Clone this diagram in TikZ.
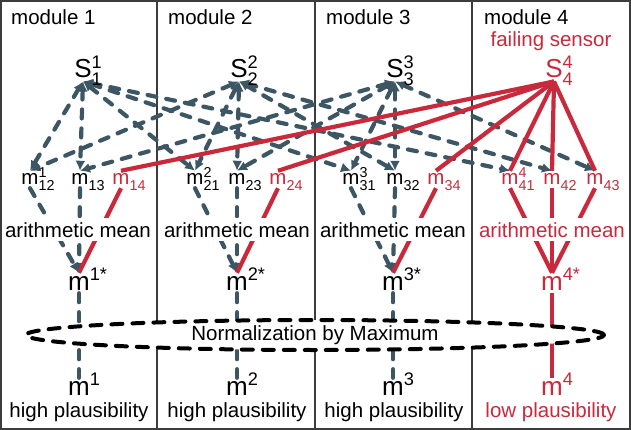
\documentclass[tikz,border=0pt]{standalone}
\usepackage{fontspec}
\setmainfont{Liberation Sans}
\usepackage{amsmath}
\usetikzlibrary{arrows.meta, shapes.geometric, backgrounds}

\definecolor{slate}{RGB}{61,86,100}
\definecolor{fail}{RGB}{200,42,60}
\definecolor{framegray}{RGB}{60,60,60}

% letter with stacked super- and subscript that do not widen the node
\newcommand{\quant}[3]{#1\rlap{\smash{${}^{\text{#2}}_{\text{#3}}$}}}

\begin{document}
\begin{tikzpicture}[
    x=1pt, y=-1pt,
    txt/.style={anchor=base, font=\fontsize{20.5}{24}\selectfont, inner sep=3pt},
    big/.style={anchor=base, font=\fontsize{26}{30}\selectfont, inner sep=3pt},
    mean/.style={txt, fill=white, inner sep=4pt},
    red/.style={text=fail},
    link/.style={slate, line width=4.2pt, dash pattern=on 9pt off 10pt, line cap=round},
    twoway/.style={arrows={Latex[length=10pt,width=10pt]-Latex[length=10pt,width=10pt]}},
    oneway/.style={arrows={-Latex[length=10pt,width=10pt]}},
    bad/.style={fail, line width=4.2pt},
    norm/.style={ellipse, draw=black, fill=white, line width=4pt, dash pattern=on 11pt off 10pt, line cap=round, minimum width=578pt, minimum height=30pt, inner sep=0pt, font=\fontsize{20.5}{24}\selectfont},
]
    \useasboundingbox (0,0) rectangle (631,430);

    % module titles
    \node[txt, anchor=base west] (t1) at (8,25) {module 1};
    \node[txt, anchor=base west] (t2) at (165,25) {module 2};
    \node[txt, anchor=base west] (t3) at (323,25) {module 3};
    \node[txt, anchor=base west] (t4) at (481,25) {module 4};
    \node[txt, red] (fs) at (551,47) {failing sensor};

    % sensors
    \node[big] (s1) at (83,78) {\quant{S}{1}{1}};
    \node[big] (s2) at (239,78) {\quant{S}{2}{2}};
    \node[big] (s3) at (395,78) {\quant{S}{3}{3}};
    \node[big, red] (s4) at (554,78) {\quant{S}{4}{4}};

    % pairwise measures
    \node[txt] (m12) at (30,185) {\quant{m}{1}{12}};
    \node[txt] (m13) at (80,185) {\quant{m}{}{13}};
    \node[txt, red] (m14) at (121,185) {\quant{m}{}{14}};
    \node[txt] (m21) at (195,185) {\quant{m}{2}{21}};
    \node[txt] (m23) at (237,185) {\quant{m}{}{23}};
    \node[txt, red] (m24) at (278,185) {\quant{m}{}{24}};
    \node[txt] (m31) at (351,185) {\quant{m}{3}{31}};
    \node[txt] (m32) at (395,185) {\quant{m}{}{32}};
    \node[txt, red] (m34) at (436,185) {\quant{m}{}{34}};
    \node[txt, red] (m41) at (510,185) {\quant{m}{4}{41}};
    \node[txt, red] (m42) at (552,185) {\quant{m}{}{42}};
    \node[txt, red] (m43) at (595,185) {\quant{m}{}{43}};

    % means
    \node[mean] (am1) at (78,237) {arithmetic mean};
    \node[mean] (am2) at (237,237) {arithmetic mean};
    \node[mean] (am3) at (393,237) {arithmetic mean};
    \node[mean, red] (am4) at (552,237) {arithmetic mean};

    \node[big] (ms1) at (79,290) {\quant{m}{1*}{}};
    \node[big] (ms2) at (237,290) {\quant{m}{2*}{}};
    \node[big] (ms3) at (393,290) {\quant{m}{3*}{}};
    \node[big, red] (ms4) at (552,290) {\quant{m}{4*}{}};

    % results
    \node[big] (mk1) at (79,395) {\quant{m}{1}{}};
    \node[big] (mk2) at (237,395) {\quant{m}{2}{}};
    \node[big] (mk3) at (393,395) {\quant{m}{3}{}};
    \node[big, red] (mk4) at (552,395) {\quant{m}{4}{}};

    \node[txt] (p1) at (79,417) {high plausibility};
    \node[txt] (p2) at (237,417) {high plausibility};
    \node[txt] (p3) at (394,417) {high plausibility};
    \node[txt, red] (p4) at (551,417) {low plausibility};

    \begin{scope}[on background layer]
        % module borders
        \draw[framegray, line width=1.2pt] (157,0) -- (157,430);
        \draw[framegray, line width=1.2pt] (315,0) -- (315,430);
        \draw[framegray, line width=1.2pt] (472,0) -- (472,430);

        % sensor to measure
        \draw[link, twoway] (s1.south) -- (m12.north);
        \draw[link, twoway] (s1.south) -- (m13.north);
        \draw[link, twoway] (s1.south) -- (m21.north);
        \draw[link, twoway] (s1.south) -- (m31.north);
        \draw[link, twoway] (s1.south) -- (m41.north);
        \draw[link, twoway] (s2.south) -- (m12.north);
        \draw[link, twoway] (s2.south) -- (m21.north);
        \draw[link, twoway] (s2.south) -- (m23.north);
        \draw[link, twoway] (s2.south) -- (m32.north);
        \draw[link, twoway] (s2.south) -- (m42.north);
        \draw[link, twoway] (s3.south) -- (m13.north);
        \draw[link, twoway] (s3.south) -- (m23.north);
        \draw[link, twoway] (s3.south) -- (m31.north);
        \draw[link, twoway] (s3.south) -- (m32.north);
        \draw[link, twoway] (s3.south) -- (m43.north);
        \draw[bad] (s4.south) -- (m14.north);
        \draw[bad] (s4.south) -- (m24.north);
        \draw[bad] (s4.south) -- (m34.north);
        \draw[bad] (s4.south) -- (m41.north);
        \draw[bad] (s4.south) -- (m42.north);
        \draw[bad] (s4.south) -- (m43.north);

        % measure to mean
        \draw[link, oneway] (m12.south) -- (ms1.north);
        \draw[link, oneway] (m13.south) -- (ms1.north);
        \draw[bad] (m14.south) -- (ms1.north);
        \draw[link, oneway] (m21.south) -- (ms2.north);
        \draw[link, oneway] (m23.south) -- (ms2.north);
        \draw[bad] (m24.south) -- (ms2.north);
        \draw[link, oneway] (m31.south) -- (ms3.north);
        \draw[link, oneway] (m32.south) -- (ms3.north);
        \draw[bad] (m34.south) -- (ms3.north);
        \draw[bad] (m41.south) -- (ms4.north);
        \draw[bad] (m42.south) -- (ms4.north);
        \draw[bad] (m43.south) -- (ms4.north);

        % mean to result
        \draw[link] (ms1.south) -- (mk1.north);
        \draw[link] (ms2.south) -- (mk2.north);
        \draw[link] (ms3.south) -- (mk3.north);
        \draw[bad] (ms4.south) -- (mk4.north);
    \end{scope}

    % normalization
    \node[norm] (nm) at (315,335) {Normalization by Maximum};

    % outer frame
    \draw[framegray, line width=2pt] (1,1) rectangle (630,429);
\end{tikzpicture}
\end{document}
